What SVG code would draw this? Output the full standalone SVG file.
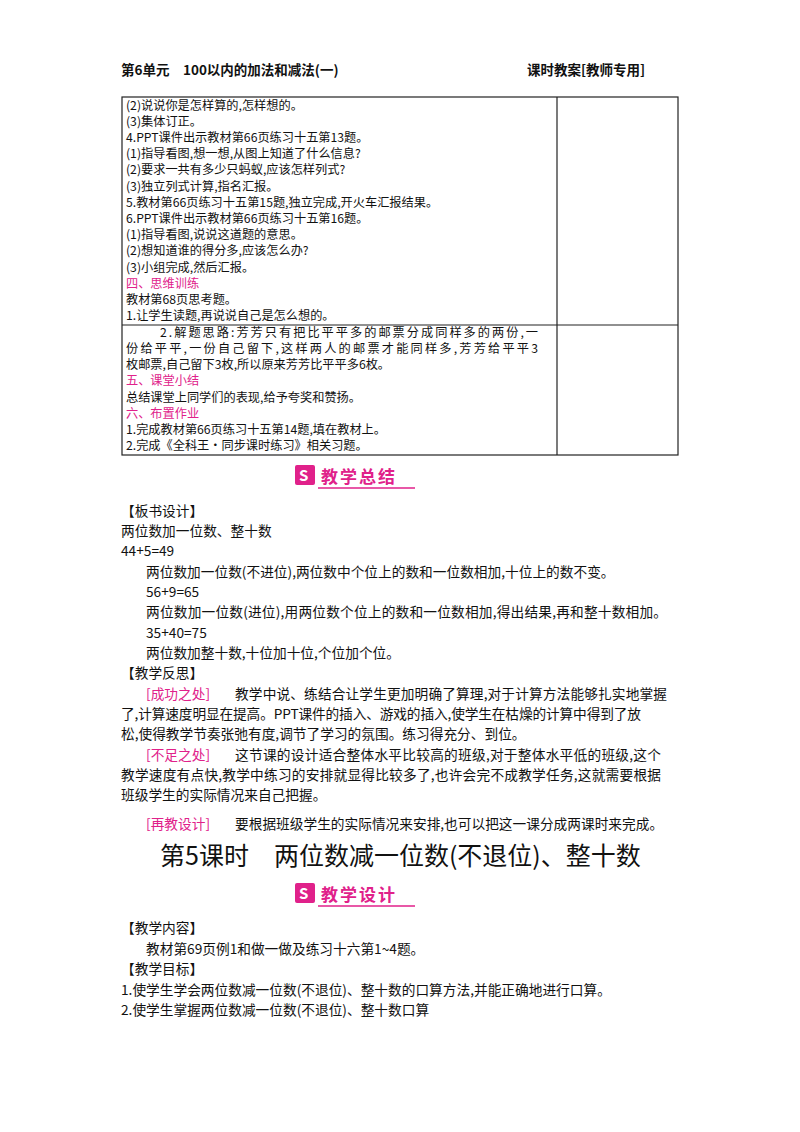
<svg xmlns="http://www.w3.org/2000/svg" width="800" height="1132" viewBox="0 0 800 1132">
<style>
text{font-family:"Noto Sans CJK SC","Liberation Serif",serif;font-size:13.7px;fill:#111}
#table text{font-size:12.2px}
.p{fill:#e0218a}
.h{font-size:13.5px;font-weight:bold}
.t{font-size:25px}
.b{font-size:17px;font-weight:bold;fill:#e0218a;letter-spacing:2px}
.ln{stroke:#222;stroke-width:1.2;fill:none}
</style>
<rect width="800" height="1132" fill="#fff"/>
<g id="header">
<text class="h" x="121" y="75">第6单元　100以内的加法和减法(一)</text>
<text class="h" x="527" y="75">课时教案[教师专用]</text>
</g>
<g id="table">
<rect class="ln" x="122" y="97" width="556" height="358"/>
<line class="ln" x1="557" y1="97" x2="557" y2="455"/>
<line class="ln" x1="122" y1="325" x2="678" y2="325"/>
<text x="126" y="110">(2)说说你是怎样算的,怎样想的。</text>
<text x="126" y="126">(3)集体订正。</text>
<text x="126" y="142">4.PPT课件出示教材第66页练习十五第13题。</text>
<text x="126" y="158">(1)指导看图,想一想,从图上知道了什么信息?</text>
<text x="126" y="174">(2)要求一共有多少只蚂蚁,应该怎样列式?</text>
<text x="126" y="191">(3)独立列式计算,指名汇报。</text>
<text x="126" y="207">5.教材第66页练习十五第15题,独立完成,开火车汇报结果。</text>
<text x="126" y="223">6.PPT课件出示教材第66页练习十五第16题。</text>
<text x="126" y="239">(1)指导看图,说说这道题的意思。</text>
<text x="126" y="255">(2)想知道谁的得分多,应该怎么办?</text>
<text x="126" y="272">(3)小组完成,然后汇报。</text>
<text class="p" x="126" y="288">四、思维训练</text>
<text x="126" y="304">教材第68页思考题。</text>
<text x="126" y="320">1.让学生读题,再说说自己是怎么想的。</text>
<text x="160" y="337" textLength="378" lengthAdjust="spacing">2.解题思路:芳芳只有把比平平多的邮票分成同样多的两份,一</text>
<text x="126" y="353" textLength="412" lengthAdjust="spacing">份给平平,一份自己留下,这样两人的邮票才能同样多,芳芳给平平3</text>
<text x="126" y="369">枚邮票,自己留下3枚,所以原来芳芳比平平多6枚。</text>
<text class="p" x="126" y="385">五、课堂小结</text>
<text x="126" y="402">总结课堂上同学们的表现,给予夸奖和赞扬。</text>
<text class="p" x="126" y="418">六、布置作业</text>
<text x="126" y="434">1.完成教材第66页练习十五第14题,填在教材上。</text>
<text x="126" y="450">2.完成《全科王·同步课时练习》相关习题。</text>
</g>
<g id="banner1">
<rect x="295" y="465" width="20" height="20" rx="2" fill="#e0218a"/>
<text x="299" y="481" style="fill:#fff;font-size:15px;font-weight:bold">S</text>
<text class="b" x="321" y="483">教学总结</text>
<line x1="318" y1="488" x2="415" y2="488" stroke="#e0218a" stroke-width="1.5"/>
</g>
<g id="summary">
<text x="121" y="516">【板书设计】</text>
<text x="121" y="536">两位数加一位数、整十数</text>
<text x="121" y="556">44+5=49</text>
<text x="146" y="577">两位数加一位数(不进位),两位数中个位上的数和一位数相加,十位上的数不变。</text>
<text x="146" y="597">56+9=65</text>
<text x="146" y="617" textLength="521" lengthAdjust="spacing">两位数加一位数(进位),用两位数个位上的数和一位数相加,得出结果,再和整十数相加。</text>
<text x="146" y="638">35+40=75</text>
<text x="146" y="658">两位数加整十数,十位加十位,个位加个位。</text>
<text x="121" y="678">【教学反思】</text>
<text class="p" x="146" y="699">[成功之处]</text>
<text x="235" y="699" textLength="432" lengthAdjust="spacing">教学中说、练结合让学生更加明确了算理,对于计算方法能够扎实地掌握</text>
<text x="121" y="719" textLength="520" lengthAdjust="spacing">了,计算速度明显在提高。PPT课件的插入、游戏的插入,使学生在枯燥的计算中得到了放</text>
<text x="121" y="739">松,使得教学节奏张弛有度,调节了学习的氛围。练习得充分、到位。</text>
<text class="p" x="146" y="760">[不足之处]</text>
<text x="235" y="760" textLength="426" lengthAdjust="spacing">这节课的设计适合整体水平比较高的班级,对于整体水平低的班级,这个</text>
<text x="121" y="780" textLength="540" lengthAdjust="spacing">教学速度有点快,教学中练习的安排就显得比较多了,也许会完不成教学任务,这就需要根据</text>
<text x="121" y="800">班级学生的实际情况来自己把握。</text>
<text class="p" x="146" y="829">[再教设计]</text>
<text x="235" y="829">要根据班级学生的实际情况来安排,也可以把这一课分成两课时来完成。</text>
</g>
<text class="t" x="160" y="865">第5课时　两位数减一位数(不退位)、整十数</text>
<g id="banner2">
<rect x="295" y="883" width="20" height="20" rx="2" fill="#e0218a"/>
<text x="299" y="899" style="fill:#fff;font-size:15px;font-weight:bold">S</text>
<text class="b" x="321" y="901">教学设计</text>
<line x1="318" y1="906" x2="415" y2="906" stroke="#e0218a" stroke-width="1.5"/>
</g>
<g id="design">
<text x="121" y="933">【教学内容】</text>
<text x="146" y="954">教材第69页例1和做一做及练习十六第1~4题。</text>
<text x="121" y="974">【教学目标】</text>
<text x="121" y="995">1.使学生学会两位数减一位数(不退位)、整十数的口算方法,并能正确地进行口算。</text>
<text x="121" y="1015">2.使学生掌握两位数减一位数(不退位)、整十数口算</text>
</g>
</svg>
